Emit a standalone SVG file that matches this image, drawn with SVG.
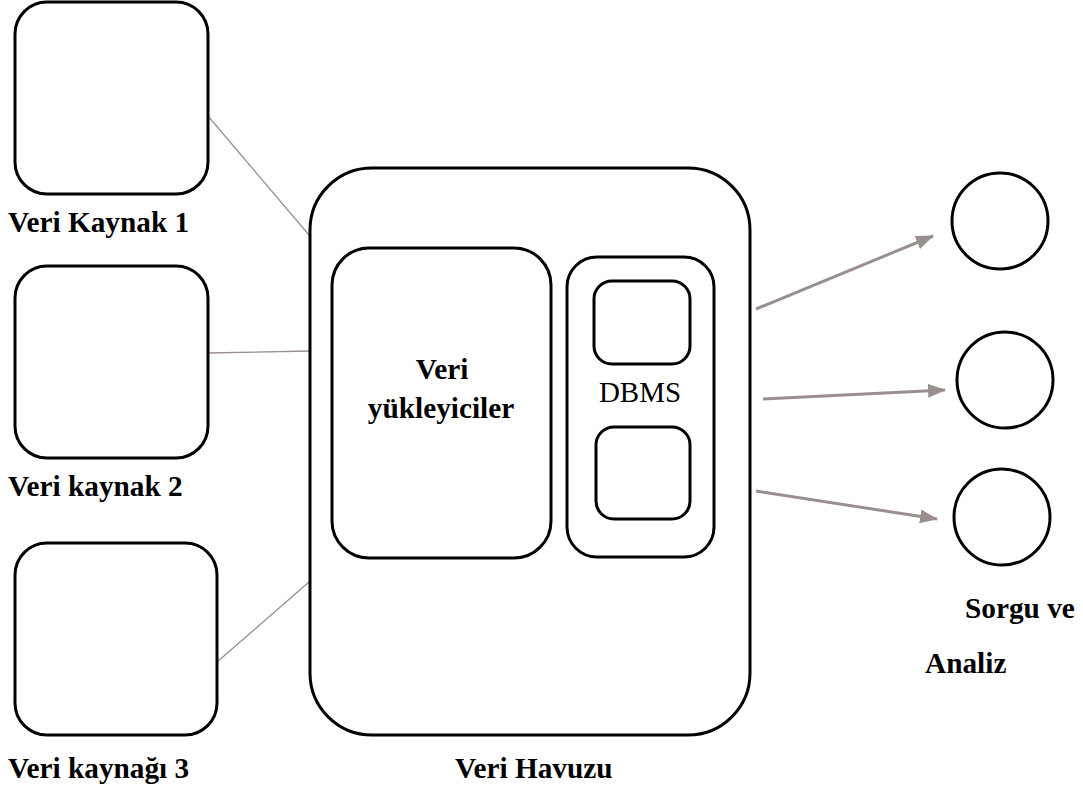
<svg xmlns="http://www.w3.org/2000/svg" width="1083" height="802" viewBox="0 0 1083 802">
  <style>
    .box { fill: #ffffff; stroke: #000000; stroke-width: 3; }
    .lbl { font-family: "Liberation Serif", "Times New Roman", serif; font-weight: bold; font-size: 29.3px; fill: #000000; }
    .reg { font-family: "Liberation Serif", "Times New Roman", serif; font-size: 29px; fill: #000000; }
    .link { stroke: #9a8f8f; stroke-width: 1.3; fill: none; }
    .flow { stroke: #9a8f8f; stroke-width: 3; fill: none; marker-end: url(#head); }
  </style>
  <defs>
    <marker id="head" markerUnits="userSpaceOnUse" markerWidth="18" markerHeight="14" refX="17" refY="7" orient="auto">
      <path d="M0,0 L18,7 L0,14 Z" fill="#9a8f8f"/>
    </marker>
  </defs>
  <rect width="1083" height="802" fill="#ffffff"/>

  <!-- links and arrows -->
  <g id="connectors">
    <line class="link" x1="208" y1="116" x2="309" y2="235"/>
    <line class="link" x1="208" y1="353" x2="310" y2="351"/>
    <line class="link" x1="217" y1="662" x2="309" y2="582"/>
    <line class="flow" x1="756" y1="309" x2="933" y2="236"/>
    <line class="flow" x1="763" y1="399" x2="945" y2="390"/>
    <line class="flow" x1="756" y1="491" x2="937" y2="519"/>
  </g>

  <!-- sources -->
  <g id="source1">
    <rect class="box" x="15" y="2" width="193" height="192" rx="32"/>
    <text class="lbl" x="8" y="232">Veri Kaynak 1</text>
  </g>
  <g id="source2">
    <rect class="box" x="15" y="266" width="193" height="192" rx="32"/>
    <text class="lbl" x="8" y="496">Veri kaynak 2</text>
  </g>
  <g id="source3">
    <rect class="box" x="15" y="543" width="202" height="192" rx="32"/>
    <text class="lbl" x="8" y="778">Veri kaynağı 3</text>
  </g>

  <!-- data lake -->
  <g id="lake">
    <rect class="box" x="310" y="168" width="440" height="567" rx="62"/>
    <text class="lbl" x="455" y="778">Veri Havuzu</text>
  </g>
  <g id="loaders">
    <rect class="box" x="332" y="248" width="219" height="310" rx="37"/>
    <text class="lbl" x="442" y="379" text-anchor="middle">Veri</text>
    <text class="lbl" x="441" y="418" text-anchor="middle">yükleyiciler</text>
  </g>
  <g id="dbms">
    <rect class="box" x="567" y="257" width="147" height="300" rx="30"/>
    <rect class="box" x="594" y="281" width="96" height="83" rx="18"/>
    <rect class="box" x="596" y="427" width="94" height="92" rx="18"/>
    <text class="reg" x="640" y="402" text-anchor="middle">DBMS</text>
  </g>

  <!-- query targets -->
  <g id="query1"><circle class="box" cx="1000" cy="221" r="48"/></g>
  <g id="query2"><circle class="box" cx="1005" cy="380" r="48"/></g>
  <g id="query3"><circle class="box" cx="1002" cy="517" r="48"/></g>
  <g id="query-label">
    <text class="lbl" x="965" y="618">Sorgu ve</text>
    <text class="lbl" x="925" y="673">Analiz</text>
  </g>
</svg>
